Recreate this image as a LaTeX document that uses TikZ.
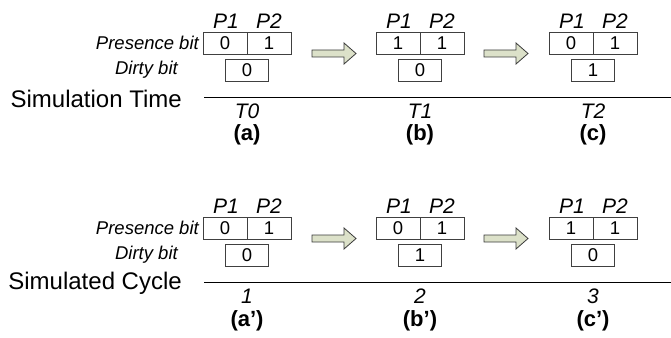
\documentclass[tikz,border=0pt]{standalone}
\usepackage{fontspec}
\setmainfont{Liberation Sans}
\definecolor{boxgray}{HTML}{404040}
\definecolor{arrowgray}{HTML}{3A3A3A}
\definecolor{arrowfill}{HTML}{DCE1C9}
\tikzset{
  cell/.style={draw=boxgray, line width=0.8pt, minimum width=44pt, minimum height=22pt, inner sep=0pt, font=\fontsize{18.5}{18.5}\selectfont},
  plab/.style={font=\fontsize{21}{21}\selectfont\itshape, inner sep=0pt},
  rowlab/.style={font=\fontsize{18.5}{18.5}\selectfont\itshape, anchor=east, inner sep=0pt},
  biglab/.style={font=\fontsize{24}{24}\selectfont, anchor=east, inner sep=0pt},
  tlab/.style={font=\fontsize{21}{21}\selectfont\itshape, inner sep=0pt},
  sublab/.style={font=\fontsize{22}{22}\selectfont\bfseries, inner sep=0pt},
  fatarrow/.style={draw=arrowgray, fill=arrowfill, line width=0.8pt},
  axisline/.style={draw=black, line width=1pt}
}
% #1 name, #2 centre x, #3 row offset y, #4 P1 bit, #5 P2 bit, #6 dirty bit
\newcommand\bitgroup[6]{%
  \node[plab] (#1p1l) at (#2-21,{#3+21.5}) {P1};
  \node[plab] (#1p2l) at (#2+22,{#3+21.5}) {P2};
  \node[cell] (#1p1) at (#2-22,{#3+43}) {#4};
  \node[cell] (#1p2) at (#2+22,{#3+43}) {#5};
  \node[cell, minimum width=43pt] (#1d) at (#2,{#3+70}) {#6};
}
% #1 start x, #2 centre y
\newcommand\fatarrowat[2]{%
  \draw[fatarrow] (#1,{#2-3.5}) -- ({#1+32},{#2-3.5}) -- ({#1+32},{#2-10.5}) -- ({#1+44},#2)
    -- ({#1+32},{#2+10.5}) -- ({#1+32},{#2+3.5}) -- (#1,{#2+3.5}) -- cycle;
}
\begin{document}
\begin{tikzpicture}[x=1pt,y=-1pt]
\useasboundingbox (0,0) rectangle (671,337);

% ---- top row: simulation time ----
\node[rowlab] (presA) at (199,43) {Presence bit};
\node[rowlab] (dirtA) at (178,70) {Dirty bit};
\node[biglab] (simtime) at (182,98.5) {Simulation Time};
\bitgroup{a}{247}{0}{0}{1}{0}
\bitgroup{b}{420}{0}{1}{1}{0}
\bitgroup{c}{593}{0}{0}{1}{1}
\fatarrowat{312}{53.5}
\fatarrowat{484}{53.5}
\coordinate (topL) at (204,97.5);
\coordinate (topR) at (671,97.5);
\draw[axisline] (topL) -- (topR);
\node[tlab] (t0) at (247,111) {T0};
\node[tlab] (t1) at (420,111) {T1};
\node[tlab] (t2) at (593,111) {T2};
\node[sublab] (la) at (247,135) {(a)};
\node[sublab] (lb) at (420,135) {(b)};
\node[sublab] (lc) at (593,135) {(c)};

% ---- bottom row: simulated cycle ----
\node[rowlab] (presB) at (199,228) {Presence bit};
\node[rowlab] (dirtB) at (178,255) {Dirty bit};
\node[biglab] (simcyc) at (182,283) {Simulated Cycle};
\bitgroup{ap}{247}{185}{0}{1}{0}
\bitgroup{bp}{420}{185}{0}{1}{1}
\bitgroup{cp}{593}{185}{1}{1}{0}
\fatarrowat{312}{238.5}
\fatarrowat{484}{238.5}
\coordinate (botL) at (204,282.5);
\coordinate (botR) at (671,282.5);
\draw[axisline] (botL) -- (botR);
\node[tlab] (c1) at (247,296.5) {1};
\node[tlab] (c2) at (420,296.5) {2};
\node[tlab] (c3) at (593,296.5) {3};
\node[sublab] (lap) at (247,320.5) {(a’)};
\node[sublab] (lbp) at (420,320.5) {(b’)};
\node[sublab] (lcp) at (593,320.5) {(c’)};
\end{tikzpicture}
\end{document}
